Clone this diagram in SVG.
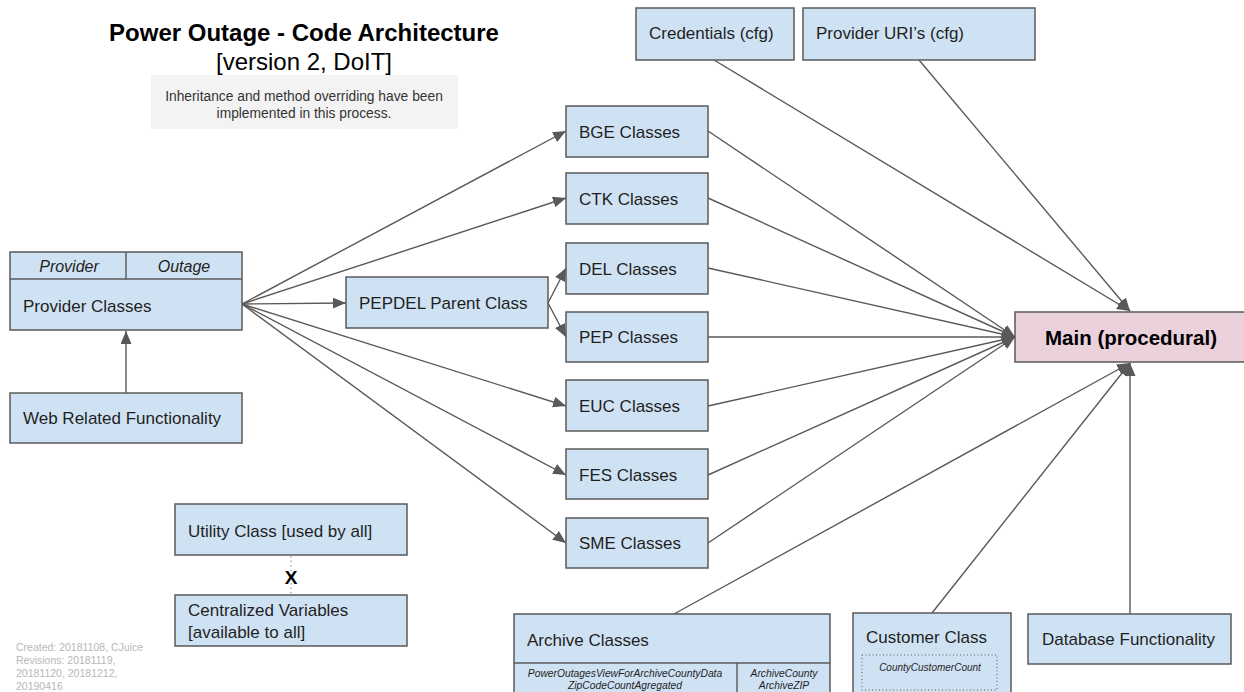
<svg xmlns="http://www.w3.org/2000/svg" width="1244" height="692" viewBox="0 0 1244 692">
<defs>
<marker id="ah" markerUnits="userSpaceOnUse" markerWidth="15" markerHeight="12" refX="13" refY="5.5" orient="auto">
<path d="M0,0 L13,5.5 L0,11 z" fill="#595959"/>
</marker>
<style>
.box{fill:#cfe2f3;stroke:#595959;stroke-width:1.5}
.main{fill:#ead1dc;stroke:#595959;stroke-width:1.5}
.t{font-family:"Liberation Sans",Arial,sans-serif;font-size:17px;fill:#1f1f1f}
.it{font-family:"Liberation Sans",Arial,sans-serif;font-style:italic;fill:#1f1f1f}
.c{stroke:#595959;stroke-width:1.4;fill:none;marker-end:url(#ah)}
.p{stroke:#595959;stroke-width:1.4;fill:none}
</style>
</defs>
<rect width="1244" height="692" fill="#ffffff"/>

<g id="title">
<text x="304" y="41" text-anchor="middle" font-family="Liberation Sans, Arial, sans-serif" font-size="24" font-weight="bold" fill="#000">Power Outage - Code Architecture</text>
<text x="304" y="70" text-anchor="middle" font-family="Liberation Sans, Arial, sans-serif" font-size="24" fill="#000">[version 2, DoIT]</text>
</g>
<g id="note">
<rect x="151" y="75" width="307" height="54" fill="#f3f3f3"/>
<text x="304" y="101" text-anchor="middle" font-family="Liberation Sans, Arial, sans-serif" font-size="13.8" fill="#333">Inheritance and method overriding have been</text>
<text x="304" y="118" text-anchor="middle" font-family="Liberation Sans, Arial, sans-serif" font-size="13.8" fill="#333">implemented in this process.</text>
</g>
<g id="footer">
<text font-family="Liberation Sans, Arial, sans-serif" font-size="10.5" fill="#b7b7b7">
<tspan x="16" y="651">Created: 20181108, CJuice</tspan>
<tspan x="16" y="664">Revisions: 20181119,</tspan>
<tspan x="16" y="677">20181120, 20181212,</tspan>
<tspan x="16" y="690">20190416</tspan>
</text>
</g>

<g id="connectors">
<line class="c" x1="126" y1="393" x2="126" y2="331"/>
<line class="c" x1="242" y1="304" x2="566" y2="131"/>
<line class="c" x1="242" y1="304" x2="566" y2="198"/>
<line class="c" x1="242" y1="304" x2="346" y2="303"/>
<line class="c" x1="242" y1="304" x2="566" y2="406"/>
<line class="c" x1="242" y1="304" x2="566" y2="475"/>
<line class="c" x1="242" y1="304" x2="566" y2="543"/>
<line class="c" x1="548" y1="303" x2="566" y2="268"/>
<line class="c" x1="548" y1="303" x2="566" y2="337"/>
<line class="c" x1="708" y1="131" x2="1015" y2="337"/>
<line class="c" x1="708" y1="198" x2="1015" y2="337"/>
<line class="c" x1="708" y1="268" x2="1015" y2="337"/>
<line class="c" x1="708" y1="337" x2="1015" y2="337"/>
<line class="c" x1="708" y1="406" x2="1015" y2="337"/>
<line class="c" x1="708" y1="475" x2="1015" y2="337"/>
<line class="c" x1="708" y1="543" x2="1015" y2="337"/>
<line class="c" x1="714" y1="60" x2="1130" y2="311"/>
<line class="c" x1="919" y1="60" x2="1130" y2="311"/>
<line class="c" x1="674" y1="614" x2="1130" y2="363"/>
<line class="c" x1="932" y1="613" x2="1130" y2="363"/>
<line class="c" x1="1130" y1="614" x2="1130" y2="363"/>
<line x1="291" y1="556" x2="291" y2="595" stroke="#999" stroke-width="1.2" stroke-dasharray="1.5,3"/>
</g>

<g id="provider">
<rect class="box" x="10" y="252" width="232" height="78"/>
<line class="p" x1="10" y1="279" x2="242" y2="279"/>
<line class="p" x1="126" y1="252" x2="126" y2="279"/>
<text class="it" x="69" y="272" font-size="16" text-anchor="middle">Provider</text>
<text class="it" x="184" y="272" font-size="16" text-anchor="middle">Outage</text>
<text class="t" x="23" y="312">Provider Classes</text>
</g>
<g id="web">
<rect class="box" x="10" y="393" width="232" height="50"/>
<text class="t" x="23" y="424">Web Related Functionality</text>
</g>
<g id="utility">
<rect class="box" x="175" y="504" width="232" height="51"/>
<text class="t" x="188" y="537">Utility Class [used by all]</text>
</g>
<g id="xmark">
<text x="291" y="584" text-anchor="middle" font-family="Liberation Sans, Arial, sans-serif" font-size="19" font-weight="bold" fill="#000">X</text>
</g>
<g id="centralized">
<rect class="box" x="175" y="595" width="232" height="51"/>
<text class="t" x="188" y="616">Centralized Variables</text>
<text class="t" x="188" y="638">[available to all]</text>
</g>
<g id="pepdel">
<rect class="box" x="346" y="277" width="202" height="51"/>
<text class="t" x="359" y="309">PEPDEL Parent Class</text>
</g>
<g id="bge">
<rect class="box" x="566" y="106" width="142" height="51"/>
<text class="t" x="579" y="138">BGE Classes</text>
</g>
<g id="ctk">
<rect class="box" x="566" y="173" width="142" height="51"/>
<text class="t" x="579" y="205">CTK Classes</text>
</g>
<g id="del">
<rect class="box" x="566" y="243" width="142" height="51"/>
<text class="t" x="579" y="275">DEL Classes</text>
</g>
<g id="pep">
<rect class="box" x="566" y="312" width="142" height="50"/>
<text class="t" x="579" y="343">PEP Classes</text>
</g>
<g id="euc">
<rect class="box" x="566" y="380" width="142" height="51"/>
<text class="t" x="579" y="412">EUC Classes</text>
</g>
<g id="fes">
<rect class="box" x="566" y="449" width="142" height="50"/>
<text class="t" x="579" y="481">FES Classes</text>
</g>
<g id="sme">
<rect class="box" x="566" y="518" width="142" height="50"/>
<text class="t" x="579" y="549">SME Classes</text>
</g>
<g id="credentials">
<rect class="box" x="636" y="8" width="158" height="52"/>
<text class="t" x="649" y="39">Credentials (cfg)</text>
</g>
<g id="uris">
<rect class="box" x="803" y="8" width="232" height="52"/>
<text class="t" x="816" y="39">Provider URI’s (cfg)</text>
</g>
<g id="main">
<rect class="main" x="1015" y="312" width="240" height="50"/>
<text x="1131" y="345" text-anchor="middle" font-family="Liberation Sans, Arial, sans-serif" font-size="20.5" font-weight="bold" fill="#000">Main (procedural)</text>
</g>
<g id="archive">
<rect class="box" x="514" y="614" width="316" height="90"/>
<line class="p" x1="514" y1="663" x2="830" y2="663"/>
<line class="p" x1="737" y1="663" x2="737" y2="700"/>
<text class="t" x="527" y="646">Archive Classes</text>
<text class="it" x="625" y="677" font-size="10.3" text-anchor="middle">PowerOutagesViewForArchiveCountyData</text>
<text class="it" x="625" y="689" font-size="10.3" text-anchor="middle">ZipCodeCountAgregated</text>
<text class="it" x="784" y="677" font-size="10.3" text-anchor="middle">ArchiveCounty</text>
<text class="it" x="784" y="689" font-size="10.3" text-anchor="middle">ArchiveZIP</text>
</g>
<g id="customer">
<rect class="box" x="853" y="613" width="158" height="90"/>
<text class="t" x="866" y="643">Customer Class</text>
<rect x="862" y="655" width="135" height="35" fill="none" stroke="#595959" stroke-width="1" stroke-dasharray="1,2.5"/>
<text class="it" x="930" y="671" font-size="10" text-anchor="middle">CountyCustomerCount</text>
</g>
<g id="database">
<rect class="box" x="1028" y="614" width="203" height="50"/>
<text class="t" x="1042" y="645">Database Functionality</text>
</g>
</svg>
